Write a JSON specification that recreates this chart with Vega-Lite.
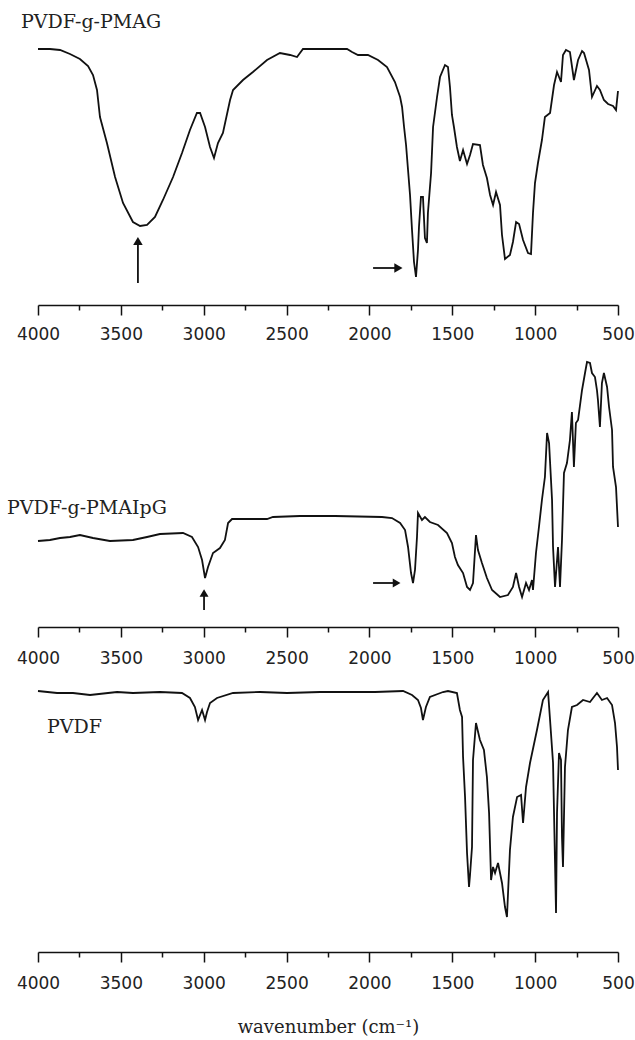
{
  "$schema": "https://vega.github.io/schema/vega-lite/v6.json",
  "padding": {"left": 7, "top": 0, "right": 0, "bottom": 0},
  "spacing": 40,
  "bounds": "flush",
  "config": {
    "view": {"stroke": null},
    "axis": {"grid": false}
  },
  "datasets": {
    "p1": [
      {"wn":4000,"T":256},{"wn":3928,"T":256},{"wn":3867,"T":255},{"wn":3807,"T":251},{"wn":3747,"T":246},{"wn":3698,"T":239},{"wn":3668,"T":230},{"wn":3644,"T":215},{"wn":3626,"T":188},{"wn":3584,"T":162},{"wn":3535,"T":128},{"wn":3487,"T":102},{"wn":3427,"T":83},{"wn":3384,"T":79},{"wn":3342,"T":80},{"wn":3294,"T":88},{"wn":3246,"T":105},{"wn":3185,"T":128},{"wn":3131,"T":152},{"wn":3083,"T":175},{"wn":3041,"T":192},{"wn":3022,"T":192},{"wn":2992,"T":178},{"wn":2962,"T":158},{"wn":2938,"T":147},{"wn":2914,"T":162},{"wn":2884,"T":172},{"wn":2841,"T":205},{"wn":2823,"T":215},{"wn":2763,"T":225},{"wn":2703,"T":233},{"wn":2618,"T":245},{"wn":2540,"T":252},{"wn":2479,"T":250},{"wn":2437,"T":248},{"wn":2401,"T":256},{"wn":2135,"T":256},{"wn":2105,"T":253},{"wn":2069,"T":250},{"wn":2009,"T":250},{"wn":1948,"T":245},{"wn":1894,"T":238},{"wn":1846,"T":223},{"wn":1815,"T":208},{"wn":1803,"T":198},{"wn":1791,"T":178},{"wn":1779,"T":160},{"wn":1767,"T":135},{"wn":1755,"T":110},{"wn":1743,"T":75},{"wn":1731,"T":43},{"wn":1719,"T":28},{"wn":1707,"T":55},{"wn":1701,"T":78},{"wn":1689,"T":108},{"wn":1677,"T":108},{"wn":1665,"T":67},{"wn":1653,"T":62},{"wn":1647,"T":92},{"wn":1628,"T":132},{"wn":1616,"T":178},{"wn":1592,"T":208},{"wn":1574,"T":228},{"wn":1544,"T":240},{"wn":1526,"T":238},{"wn":1514,"T":218},{"wn":1502,"T":190},{"wn":1490,"T":178},{"wn":1472,"T":158},{"wn":1454,"T":144},{"wn":1435,"T":155},{"wn":1411,"T":141},{"wn":1393,"T":150},{"wn":1375,"T":161},{"wn":1333,"T":160},{"wn":1315,"T":140},{"wn":1291,"T":127},{"wn":1272,"T":110},{"wn":1254,"T":100},{"wn":1236,"T":113},{"wn":1212,"T":100},{"wn":1200,"T":70},{"wn":1182,"T":46},{"wn":1152,"T":50},{"wn":1134,"T":63},{"wn":1115,"T":83},{"wn":1097,"T":81},{"wn":1073,"T":65},{"wn":1043,"T":52},{"wn":1025,"T":51},{"wn":1013,"T":92},{"wn":1001,"T":122},{"wn":983,"T":142},{"wn":959,"T":165},{"wn":941,"T":188},{"wn":910,"T":192},{"wn":886,"T":220},{"wn":868,"T":233},{"wn":844,"T":223},{"wn":832,"T":250},{"wn":814,"T":255},{"wn":790,"T":253},{"wn":766,"T":225},{"wn":741,"T":245},{"wn":717,"T":254},{"wn":705,"T":252},{"wn":675,"T":235},{"wn":657,"T":208},{"wn":627,"T":219},{"wn":609,"T":215},{"wn":585,"T":205},{"wn":560,"T":201},{"wn":530,"T":199},{"wn":512,"T":195},{"wn":500,"T":214}
    ],
    "p2": [
      {"wn":4000,"T":86},{"wn":3928,"T":87},{"wn":3867,"T":89},{"wn":3807,"T":90},{"wn":3747,"T":92},{"wn":3668,"T":89},{"wn":3566,"T":86},{"wn":3427,"T":87},{"wn":3342,"T":90},{"wn":3264,"T":93},{"wn":3125,"T":94},{"wn":3071,"T":90},{"wn":3034,"T":80},{"wn":3010,"T":67},{"wn":2992,"T":49},{"wn":2974,"T":60},{"wn":2944,"T":74},{"wn":2902,"T":79},{"wn":2872,"T":87},{"wn":2853,"T":104},{"wn":2829,"T":108},{"wn":2618,"T":108},{"wn":2582,"T":110},{"wn":2419,"T":111},{"wn":2208,"T":111},{"wn":1924,"T":110},{"wn":1864,"T":109},{"wn":1815,"T":104},{"wn":1785,"T":97},{"wn":1767,"T":80},{"wn":1749,"T":54},{"wn":1737,"T":44},{"wn":1725,"T":57},{"wn":1713,"T":90},{"wn":1707,"T":114},{"wn":1683,"T":107},{"wn":1665,"T":110},{"wn":1635,"T":105},{"wn":1586,"T":102},{"wn":1532,"T":94},{"wn":1502,"T":84},{"wn":1484,"T":70},{"wn":1466,"T":62},{"wn":1435,"T":54},{"wn":1411,"T":40},{"wn":1393,"T":37},{"wn":1375,"T":44},{"wn":1357,"T":92},{"wn":1345,"T":77},{"wn":1321,"T":64},{"wn":1291,"T":49},{"wn":1260,"T":37},{"wn":1212,"T":30},{"wn":1164,"T":32},{"wn":1134,"T":40},{"wn":1115,"T":54},{"wn":1097,"T":40},{"wn":1079,"T":30},{"wn":1055,"T":44},{"wn":1037,"T":37},{"wn":1019,"T":47},{"wn":1013,"T":37},{"wn":995,"T":74},{"wn":977,"T":100},{"wn":959,"T":127},{"wn":941,"T":150},{"wn":928,"T":194},{"wn":916,"T":184},{"wn":898,"T":127},{"wn":892,"T":80},{"wn":880,"T":40},{"wn":862,"T":80},{"wn":850,"T":40},{"wn":838,"T":87},{"wn":826,"T":154},{"wn":808,"T":164},{"wn":790,"T":187},{"wn":778,"T":215},{"wn":766,"T":160},{"wn":754,"T":204},{"wn":741,"T":207},{"wn":717,"T":237},{"wn":699,"T":254},{"wn":687,"T":265},{"wn":669,"T":264},{"wn":657,"T":254},{"wn":639,"T":250},{"wn":627,"T":237},{"wn":621,"T":227},{"wn":609,"T":200},{"wn":597,"T":244},{"wn":585,"T":254},{"wn":566,"T":240},{"wn":554,"T":220},{"wn":536,"T":197},{"wn":530,"T":160},{"wn":512,"T":140},{"wn":500,"T":100}
    ],
    "p3": [
      {"wn":4000,"T":261},{"wn":3885,"T":259},{"wn":3789,"T":259},{"wn":3686,"T":257},{"wn":3523,"T":260},{"wn":3427,"T":259},{"wn":3264,"T":260},{"wn":3131,"T":259},{"wn":3083,"T":254},{"wn":3053,"T":245},{"wn":3034,"T":232},{"wn":3010,"T":242},{"wn":2992,"T":232},{"wn":2980,"T":240},{"wn":2962,"T":249},{"wn":2920,"T":254},{"wn":2823,"T":259},{"wn":2660,"T":260},{"wn":2497,"T":259},{"wn":2298,"T":260},{"wn":2166,"T":260},{"wn":1966,"T":260},{"wn":1797,"T":261},{"wn":1743,"T":257},{"wn":1707,"T":252},{"wn":1689,"T":244},{"wn":1677,"T":232},{"wn":1659,"T":245},{"wn":1635,"T":255},{"wn":1556,"T":260},{"wn":1526,"T":261},{"wn":1472,"T":259},{"wn":1454,"T":242},{"wn":1441,"T":235},{"wn":1435,"T":195},{"wn":1423,"T":155},{"wn":1411,"T":99},{"wn":1399,"T":65},{"wn":1393,"T":77},{"wn":1381,"T":105},{"wn":1375,"T":192},{"wn":1357,"T":229},{"wn":1333,"T":212},{"wn":1309,"T":202},{"wn":1291,"T":175},{"wn":1278,"T":139},{"wn":1266,"T":72},{"wn":1254,"T":85},{"wn":1242,"T":79},{"wn":1224,"T":89},{"wn":1200,"T":69},{"wn":1182,"T":45},{"wn":1170,"T":35},{"wn":1152,"T":102},{"wn":1134,"T":135},{"wn":1109,"T":155},{"wn":1085,"T":157},{"wn":1073,"T":129},{"wn":1055,"T":165},{"wn":1031,"T":189},{"wn":989,"T":222},{"wn":953,"T":252},{"wn":922,"T":260},{"wn":910,"T":232},{"wn":892,"T":189},{"wn":880,"T":89},{"wn":874,"T":39},{"wn":868,"T":139},{"wn":856,"T":199},{"wn":844,"T":192},{"wn":838,"T":115},{"wn":832,"T":85},{"wn":820,"T":185},{"wn":802,"T":222},{"wn":778,"T":245},{"wn":747,"T":247},{"wn":711,"T":252},{"wn":669,"T":250},{"wn":627,"T":259},{"wn":597,"T":252},{"wn":566,"T":254},{"wn":536,"T":247},{"wn":518,"T":229},{"wn":506,"T":205},{"wn":500,"T":182}
    ]
  },
  "vconcat": [
    {
      "width": 580,
      "height": 305,
      "encoding": {
        "x": {"field": "wn", "type": "quantitative", "scale": {"domain": [4000, 500], "nice": false, "zero": false},
          "axis": {"title": null, "values": [4000,3750,3500,3250,3000,2750,2500,2250,2000,1750,1500,1250,1000,750,500], "format": "d",
            "labelExpr": "datum.value % 500 === 0 ? datum.label : ''",
            "tickSize": {"condition": {"test": "datum.value % 500 === 0", "value": 10}, "value": 5},
            "domainColor": "#111", "domainWidth": 1.5, "tickColor": "#111", "tickWidth": 1.5,
            "labelFont": "DejaVu Sans", "labelFontSize": 17, "labelColor": "#222", "labelPadding": 11, "labelOverlap": false, "labelFlush": false}},
        "y": {"field": "T", "type": "quantitative", "scale": {"domain": [0, 305], "nice": false, "zero": false}, "axis": null}
      },
      "layer": [
        {"data": {"name": "p1"}, "mark": {"type": "line", "color": "#111", "strokeWidth": 1.8}},
        {"data": {"values": [{"wn": 3397, "T": 22, "wn2": 3397, "T2": 62}, {"wn": 1978, "T": 37, "wn2": 1830, "T2": 37}]},
         "mark": {"type": "rule", "color": "#111", "strokeWidth": 1.8},
         "encoding": {"x2": {"field": "wn2"}, "y2": {"field": "T2"}}},
        {"data": {"values": [{"wn": 3397, "T": 64, "shape": "triangle-up"}, {"wn": 1825, "T": 37, "shape": "triangle-right"}]},
         "mark": {"type": "point", "filled": true, "color": "#111", "opacity": 1, "size": 90},
         "encoding": {"shape": {"field": "shape", "type": "nominal", "scale": null}}},
        {"data": {"values": [{"wn": 4103, "T": 283, "label": "PVDF-g-PMAG"}]},
         "mark": {"type": "text", "align": "left", "baseline": "middle", "font": "DejaVu Serif", "fontSize": 19, "color": "#222"},
         "encoding": {"text": {"field": "label"}}}
      ]
    },
    {
      "width": 580,
      "height": 282,
      "encoding": {
        "x": {"field": "wn", "type": "quantitative", "scale": {"domain": [4000, 500], "nice": false, "zero": false},
          "axis": {"title": null, "values": [4000,3750,3500,3250,3000,2750,2500,2250,2000,1750,1500,1250,1000,750,500], "format": "d",
            "labelExpr": "datum.value % 500 === 0 ? datum.label : ''",
            "tickSize": {"condition": {"test": "datum.value % 500 === 0", "value": 10}, "value": 5},
            "domainColor": "#111", "domainWidth": 1.5, "tickColor": "#111", "tickWidth": 1.5,
            "labelFont": "DejaVu Sans", "labelFontSize": 17, "labelColor": "#222", "labelPadding": 13, "labelOverlap": false, "labelFlush": false}},
        "y": {"field": "T", "type": "quantitative", "scale": {"domain": [0, 282], "nice": false, "zero": false}, "axis": null}
      },
      "layer": [
        {"data": {"name": "p2"}, "mark": {"type": "line", "color": "#111", "strokeWidth": 1.8}},
        {"data": {"values": [{"wn": 2998, "T": 17, "wn2": 2998, "T2": 36}, {"wn": 1978, "T": 44, "wn2": 1840, "T2": 44}]},
         "mark": {"type": "rule", "color": "#111", "strokeWidth": 1.8},
         "encoding": {"x2": {"field": "wn2"}, "y2": {"field": "T2"}}},
        {"data": {"values": [{"wn": 2998, "T": 34, "shape": "triangle-up"}, {"wn": 1836, "T": 44, "shape": "triangle-right"}]},
         "mark": {"type": "point", "filled": true, "color": "#111", "opacity": 1, "size": 80},
         "encoding": {"shape": {"field": "shape", "type": "nominal", "scale": null}}},
        {"data": {"values": [{"wn": 4187, "T": 119, "label": "PVDF-g-PMAIpG"}]},
         "mark": {"type": "text", "align": "left", "baseline": "middle", "font": "DejaVu Serif", "fontSize": 19, "color": "#222"},
         "encoding": {"text": {"field": "label"}}}
      ]
    },
    {
      "width": 580,
      "height": 285,
      "encoding": {
        "x": {"field": "wn", "type": "quantitative", "scale": {"domain": [4000, 500], "nice": false, "zero": false},
          "axis": {"title": "wavenumber (cm⁻¹)", "values": [4000,3750,3500,3250,3000,2750,2500,2250,2000,1750,1500,1250,1000,750,500], "format": "d",
            "labelExpr": "datum.value % 500 === 0 ? datum.label : ''",
            "tickSize": {"condition": {"test": "datum.value % 500 === 0", "value": 10}, "value": 5},
            "domainColor": "#111", "domainWidth": 1.5, "tickColor": "#111", "tickWidth": 1.5,
            "labelFont": "DejaVu Sans", "labelFontSize": 17, "labelColor": "#222", "labelPadding": 13, "labelOverlap": false, "labelFlush": false,
            "titleFont": "DejaVu Serif", "titleFontSize": 18, "titleFontWeight": "normal", "titleColor": "#222", "titlePadding": 27}},
        "y": {"field": "T", "type": "quantitative", "scale": {"domain": [0, 285], "nice": false, "zero": false}, "axis": null}
      },
      "layer": [
        {"data": {"name": "p3"}, "mark": {"type": "line", "color": "#111", "strokeWidth": 1.8}},
        {"data": {"values": [{"wn": 3946, "T": 225, "label": "PVDF"}]},
         "mark": {"type": "text", "align": "left", "baseline": "middle", "font": "DejaVu Serif", "fontSize": 19, "color": "#222"},
         "encoding": {"text": {"field": "label"}}}
      ]
    }
  ]
}
